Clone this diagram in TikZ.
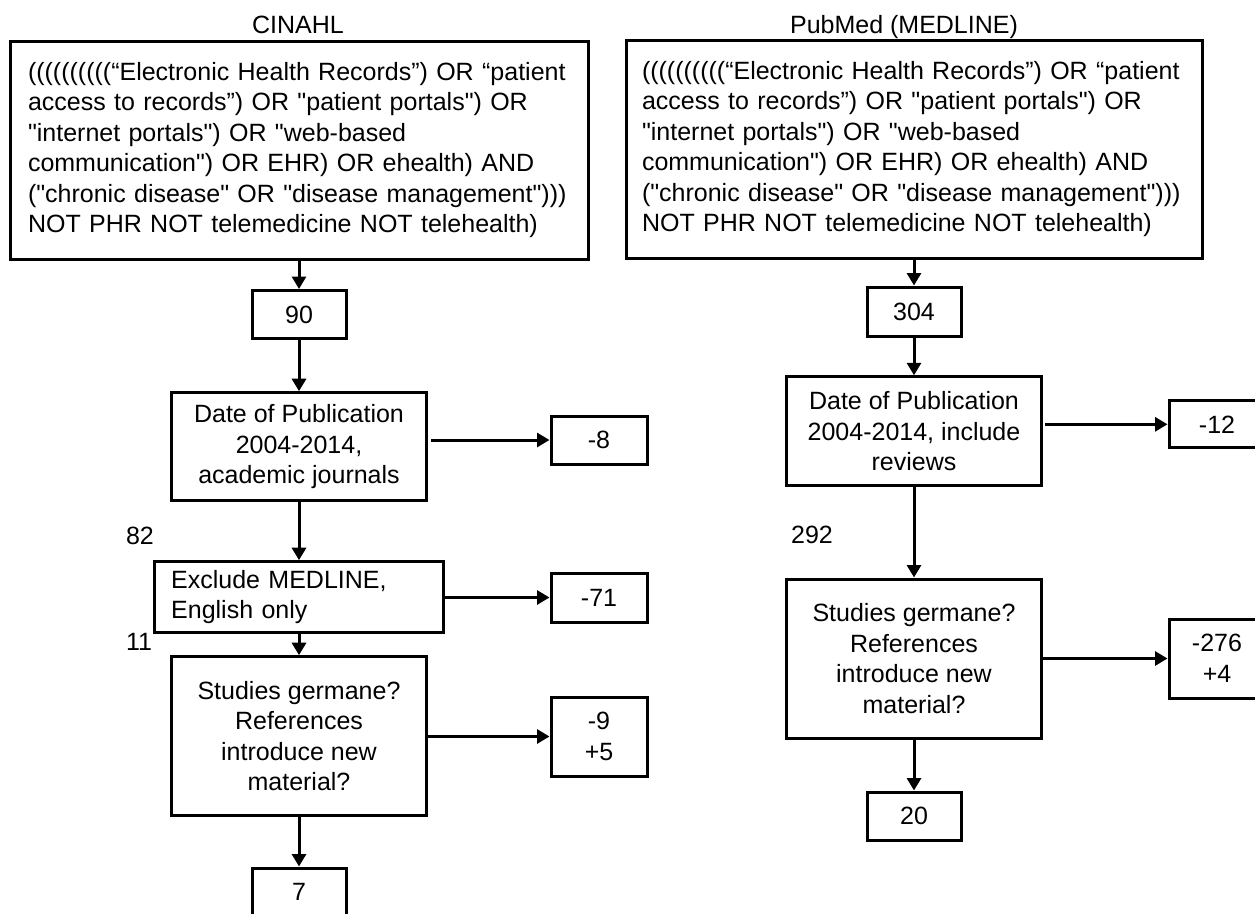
\documentclass[tikz,border=0pt]{standalone}
\usepackage{fontspec}
\setmainfont{Liberation Sans}[Ligatures=TeXOff]
\usetikzlibrary{arrows.meta}
\begin{document}
\begin{tikzpicture}[x=1pt,y=-1pt,
  every node/.style={font=\fontsize{25}{30.5}\selectfont, inner sep=0pt},
  box/.style={draw, line width=3pt, align=center},
  qbox/.style={box, minimum width=#1, minimum height=218pt, align=left},
  numbox/.style={box, minimum width=94pt, minimum height=48pt},
  sidebox/.style={box, minimum width=96pt},
  stepbox/.style={box, minimum width=255pt},
  arr/.style={line width=3pt, -{Triangle[width=14pt,length=12.5pt]}},
]
\useasboundingbox (0,0) rectangle (1255,913);

% titles
\node[anchor=base] (tL) at (298,33.5) {CINAHL};
\node[anchor=base] (tR) at (904,33.5) {PubMed (MEDLINE)};

% left column
\node[qbox=578pt, text width=542pt, inner xsep=18pt] (qL) at (299,150) {((((((((((“Electronic Health Records”) OR “patient\\ access to records”) OR "patient portals") OR\\ "internet portals") OR "web-based\\ communication") OR EHR) OR ehealth) AND\\ ("chronic disease" OR "disease management")))\\ NOT PHR NOT telemedicine NOT telehealth)};
\node[numbox] (n90) at (299,314.5) {90};
\node[stepbox, minimum height=108pt] (dateL) at (299,446.7) {Date of Publication\\2004-2014,\\academic journals};
\node[sidebox, minimum height=48pt] (m8) at (599,440) {-8};
\node (l82) at (140,536) {82};
\node[box, minimum width=289pt, minimum height=71pt, text width=255.6pt, inner xsep=16.7pt, align=left] (excl) at (299,597.2) {Exclude MEDLINE,\\English only};
\node[sidebox, minimum height=49pt] (m71) at (599,597.5) {-71};
\node (l11) at (139,642) {11};
\node[stepbox, minimum height=159pt] (studL) at (299,736.2) {Studies germane?\\References\\introduce new\\material?};
\node[sidebox, minimum height=79pt] (p9) at (599,736.5) {-9\\+5};
\node[numbox] (n7) at (299,892) {7};

\draw[arr] (qL.south) -- (n90.north);
\draw[arr] (n90.south) -- (dateL.north);
\draw[arr] (dateL.south) -- (excl.north);
\draw[arr] (excl.south) -- (studL.north);
\draw[arr] (studL.south) -- (n7.north);
\draw[arr] ([xshift=3pt]dateL.east |- m8.west) -- (m8.west);
\draw[arr] (excl.east |- m71.west) -- (m71.west);
\draw[arr] (studL.east |- p9.west) -- (p9.west);

% right column
\node[qbox=576pt, text width=544pt, inner xsep=16pt] (qR) at (914,149) {((((((((((“Electronic Health Records”) OR “patient\\ access to records”) OR "patient portals") OR\\ "internet portals") OR "web-based\\ communication") OR EHR) OR ehealth) AND\\ ("chronic disease" OR "disease management")))\\ NOT PHR NOT telemedicine NOT telehealth)};
\node[numbox, minimum height=49pt] (n304) at (914,311.5) {304};
\node[stepbox, minimum height=109pt] (dateR) at (914,431.3) {Date of Publication\\2004-2014, include\\reviews};
\node[sidebox, minimum height=47pt] (m12) at (1217,424.3) {-12};
\node (l292) at (812,535) {292};
\node[stepbox, minimum height=159pt] (studR) at (914,658.5) {Studies germane?\\References\\introduce new\\material?};
\node[sidebox, minimum height=79pt] (m276) at (1217,658.5) {-276\\+4};
\node[numbox] (n20) at (914,816) {20};

\draw[arr] (qR.south) -- (n304.north);
\draw[arr] (n304.south) -- (dateR.north);
\draw[arr] (dateR.south) -- (studR.north);
\draw[arr] (studR.south) -- (n20.north);
\draw[arr] ([xshift=2pt]dateR.east |- m12.west) -- (m12.west);
\draw[arr] (studR.east |- m276.west) -- (m276.west);
\end{tikzpicture}
\end{document}
